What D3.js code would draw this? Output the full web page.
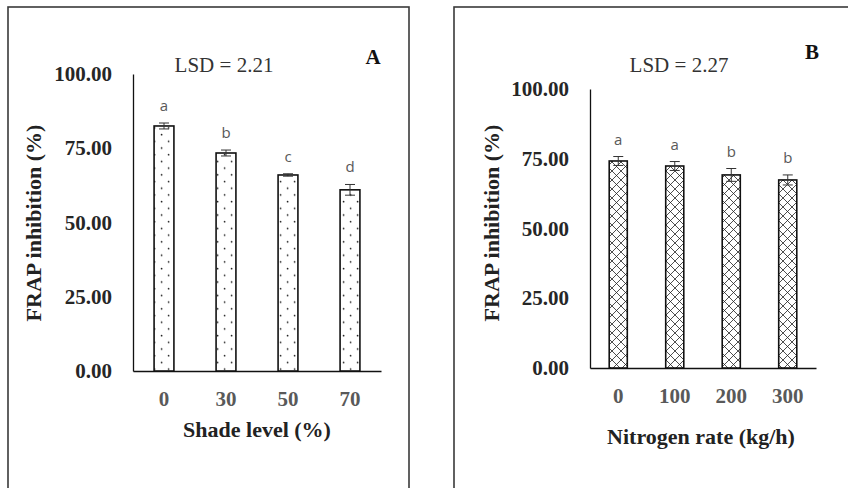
<!DOCTYPE html>
<html>
<head>
<meta charset="utf-8">
<script src="https://cdn.jsdelivr.net/npm/d3@7"></script>
<style>
  html, body { margin: 0; padding: 0; background: #fff; }
  svg { display: block; }
</style>
</head>
<body>
<svg id="chart" width="848" height="488"></svg>
<script>
// ---- Data ----
const shadeLevels = ["0", "30", "50", "70"];
const frapShade = [82.5, 73.4, 66.0, 61.0];
const errShade = [1.0, 1.0, 0.4, 1.8];
const lettersShade = ["a", "b", "c", "d"];

const nitrogenRates = ["0", "100", "200", "300"];
const frapNitrogen = [74.2, 72.4, 69.2, 67.4];
const errNitrogen = [1.6, 1.6, 2.3, 1.8];
const lettersNitrogen = ["a", "a", "b", "b"];

const yTicks = [0, 25, 50, 75, 100];

const svg = d3.select("#chart");
const defs = svg.append("defs");

// dotted pattern
const dots = defs.append("pattern").attr("id", "dots")
  .attr("patternUnits", "userSpaceOnUse").attr("width", 14).attr("height", 13.4);
dots.append("rect").attr("width", 14).attr("height", 13.4).attr("fill", "#fff");
[[0.6, 7.3], [14.6, 7.3], [7.6, 0.6], [7.6, 14.0]].forEach(([cx, cy]) =>
  dots.append("circle").attr("cx", cx).attr("cy", cy).attr("r", 0.85).attr("fill", "#222"));

// cross-hatch pattern
const hatch = defs.append("pattern").attr("id", "hatch")
  .attr("patternUnits", "userSpaceOnUse").attr("width", 9).attr("height", 9);
hatch.append("rect").attr("width", 9).attr("height", 9).attr("fill", "#fff");
hatch.append("path").attr("d", "M0,0L9,9M9,0L0,9M-1,8L1,10M8,-1L10,1")
  .attr("stroke", "#222").attr("stroke-width", 0.8).attr("fill", "none");

const serif = "'Liberation Serif', 'Times New Roman', serif";

function panel(cfg) {
  const g = svg.append("g");
  // frame
  g.append("rect").attr("x", cfg.frame[0]).attr("y", cfg.frame[1])
    .attr("width", cfg.frame[2]).attr("height", cfg.frame[3])
    .attr("fill", "none").attr("stroke", "#3a3a3a").attr("stroke-width", 1.6);

  const x = d3.scaleBand().domain(cfg.cats).range(cfg.xr).paddingInner(0.68).paddingOuter(0.34);
  const y = d3.scaleLinear().domain([0, 100]).range(cfg.yr);

  // y axis
  const ya = g.append("g").attr("transform", `translate(${cfg.xr[0]},0)`)
    .call(d3.axisLeft(y).tickValues(yTicks).tickSize(0).tickPadding(21).tickFormat(d3.format(".2f")));
  ya.select(".domain").attr("stroke", "#111").attr("stroke-width", 1.3);
  ya.selectAll("text").attr("font-family", serif)
    .attr("font-weight", "bold").attr("font-size", 21).attr("fill", "#262626");

  // x axis
  const xa = g.append("g").attr("transform", `translate(0,${cfg.yr[0]})`)
    .call(d3.axisBottom(x).tickSize(0).tickPadding(cfg.xPad));
  xa.select(".domain").attr("stroke", "#111").attr("stroke-width", 1.3);
  xa.selectAll("text").attr("font-family", serif)
    .attr("font-weight", "bold").attr("font-size", 21).attr("fill", "#595959");

  const rows = cfg.cats.map((c, i) => ({ c, v: cfg.vals[i], e: cfg.errs[i], l: cfg.letters[i] }));

  // bars
  g.selectAll(".bar").data(rows).join("rect")
    .attr("x", d => x(d.c)).attr("width", x.bandwidth())
    .attr("y", d => y(d.v)).attr("height", d => y(0) - y(d.v))
    .attr("fill", `url(#${cfg.pattern})`).attr("stroke", "#111").attr("stroke-width", 1.6);

  // error bars
  const eb = g.selectAll(".eb").data(rows).join("g");
  eb.append("line")
    .attr("x1", d => x(d.c) + x.bandwidth() / 2).attr("x2", d => x(d.c) + x.bandwidth() / 2)
    .attr("y1", d => y(d.v + d.e)).attr("y2", d => y(d.v - d.e))
    .attr("stroke", "#333").attr("stroke-width", 1);
  [1, -1].forEach(s => eb.append("line")
    .attr("x1", d => x(d.c) + x.bandwidth() / 2 - 5).attr("x2", d => x(d.c) + x.bandwidth() / 2 + 5)
    .attr("y1", d => y(d.v + s * d.e)).attr("y2", d => y(d.v + s * d.e))
    .attr("stroke", "#333").attr("stroke-width", 1));

  // letters
  g.selectAll(".lt").data(rows).join("text")
    .attr("x", d => x(d.c) + x.bandwidth() / 2).attr("y", d => y(d.v + d.e) - 12)
    .attr("text-anchor", "middle").attr("font-family", "'Open Sans', sans-serif")
    .attr("font-size", 15).attr("fill", "#595959").text(d => d.l);

  // LSD
  g.append("text").attr("x", cfg.lsdPos[0]).attr("y", cfg.lsdPos[1])
    .attr("text-anchor", "middle").attr("font-family", serif)
    .attr("font-size", 21).attr("fill", "#333").text(cfg.lsd);

  // panel letter
  g.append("text").attr("x", cfg.tagPos[0]).attr("y", cfg.tagPos[1])
    .attr("text-anchor", "middle").attr("font-family", serif)
    .attr("font-weight", "bold").attr("font-size", 21).attr("fill", "#111").text(cfg.tag);

  // y title
  g.append("text").attr("transform", `translate(${cfg.yTitlePos[0]},${cfg.yTitlePos[1]}) rotate(-90)`)
    .attr("text-anchor", "middle").attr("font-family", serif)
    .attr("font-weight", "bold").attr("font-size", 22).attr("fill", "#222").text("FRAP inhibition (%)");

  // x title
  g.append("text").attr("x", cfg.xTitlePos[0]).attr("y", cfg.xTitlePos[1])
    .attr("text-anchor", "middle").attr("font-family", serif)
    .attr("font-weight", "bold").attr("font-size", 22).attr("fill", "#222").text(cfg.xTitle);
}

panel({
  frame: [8, 7, 401, 500],
  cats: shadeLevels, vals: frapShade, errs: errShade, letters: lettersShade,
  xr: [133, 381], yr: [371, 74], xPad: 20, pattern: "dots",
  lsd: "LSD = 2.21", lsdPos: [224, 72], tag: "A", tagPos: [373, 64],
  yTitlePos: [41, 223], xTitle: "Shade level (%)", xTitlePos: [257, 437]
});

panel({
  frame: [454, 7, 420, 500],
  cats: nitrogenRates, vals: frapNitrogen, errs: errNitrogen, letters: lettersNitrogen,
  xr: [590, 816], yr: [368, 89], xPad: 20, pattern: "hatch",
  lsd: "LSD = 2.27", lsdPos: [679, 72], tag: "B", tagPos: [812, 59],
  yTitlePos: [499, 223], xTitle: "Nitrogen rate (kg/h)", xTitlePos: [701, 444]
});
</script>
</body>
</html>
